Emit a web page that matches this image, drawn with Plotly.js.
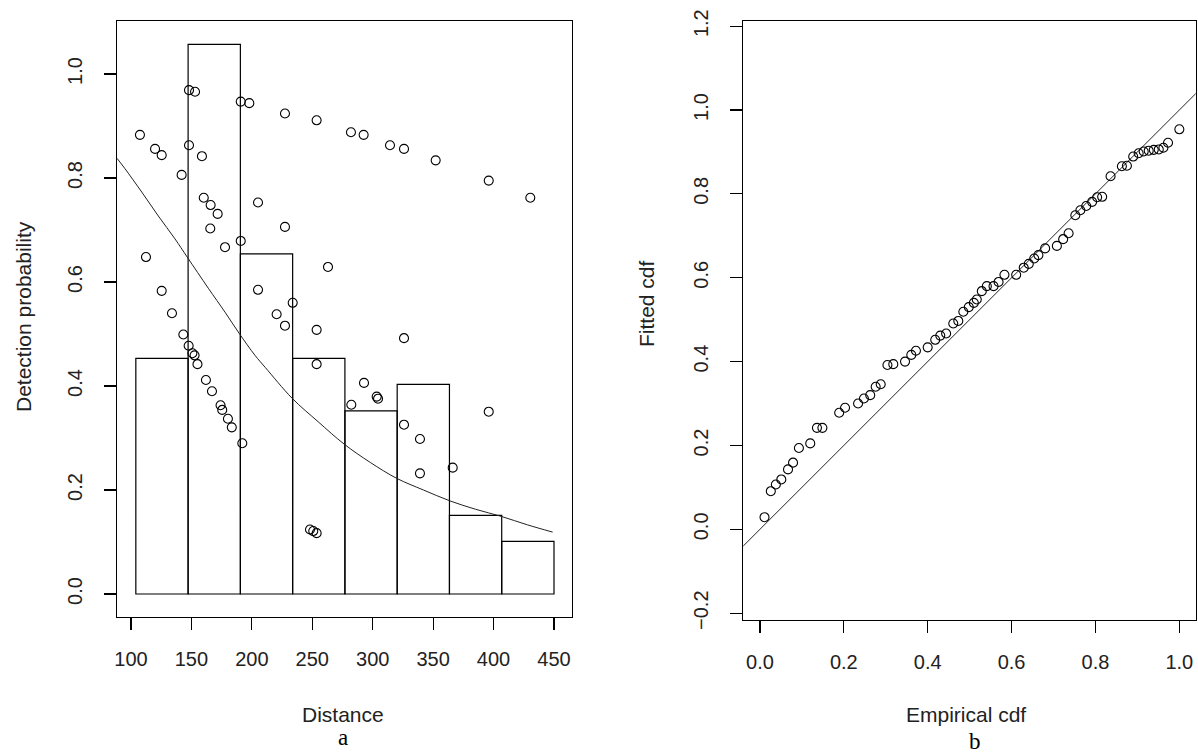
<!DOCTYPE html>
<html>
<head>
<meta charset="utf-8">
<script src="https://cdn.plot.ly/plotly-3.0.1.min.js"></script>
<style>html,body{margin:0;padding:0;background:#fff;}#chart{width:1198px;height:755px;}</style>
</head>
<body>
<div id="chart"></div>
<script>
// ---- Panel a: histogram of detection distances (scaled) ----
const binEdges = [104, 147.25, 190.5, 233.75, 277, 320.25, 363.5, 406.75, 450];
const binHeights = [0.453, 1.057, 0.654, 0.453, 0.352, 0.403, 0.151, 0.101];

// ---- Panel a: fitted detection function ----
const curveDist = [88.4, 95, 108.9, 122.6, 136.4, 146.5, 164, 177.8, 189.6, 202.6, 211, 233.5, 255, 276.5, 298, 319.8, 342, 364, 385, 406.7, 428, 448.9];
const curveProb = [0.838, 0.818, 0.773, 0.727, 0.683, 0.648, 0.588, 0.542, 0.501, 0.459, 0.436, 0.376, 0.331, 0.288, 0.253, 0.2225, 0.200, 0.179, 0.163, 0.149, 0.133, 0.119];

// ---- Panel a: observed points ----
const pointDist = [107.4, 148, 153, 190.8, 197.9, 227.4, 253.6, 282, 292.5, 314.3, 325.9, 352.1, 396, 430.4,
  119.9, 125.4, 148, 158.7, 141.9, 160.2, 165.9, 171.7, 165.6, 205.1, 227.4, 177.8, 190.8, 263,
  112.4, 125.4, 205.1, 133.9, 233.8, 220.5, 227.4, 253.6, 143.3, 147.7, 150.8, 152.6, 155, 253.6,
  162, 167, 174.1, 175.5, 180.2, 183.4, 192.1, 325.9, 292.8, 282.3, 303.3, 304.4, 325.9, 339.1,
  339.1, 366.2, 396, 248.1, 250.8, 253.6];
const pointProb = [0.883, 0.969, 0.966, 0.947, 0.944, 0.924, 0.911, 0.888, 0.883, 0.863, 0.856, 0.834, 0.795, 0.762,
  0.856, 0.844, 0.863, 0.842, 0.806, 0.762, 0.748, 0.731, 0.703, 0.753, 0.706, 0.667, 0.679, 0.629,
  0.648, 0.583, 0.585, 0.540, 0.560, 0.538, 0.516, 0.508, 0.499, 0.4775, 0.463, 0.459, 0.442, 0.442,
  0.4115, 0.390, 0.363, 0.354, 0.337, 0.3205, 0.290, 0.492, 0.406, 0.364, 0.3795, 0.3756, 0.3256, 0.298,
  0.232, 0.243, 0.3506, 0.124, 0.121, 0.117];

// ---- Panel b: Q-Q style cdf plot ----
const empCdf = [0.011, 0.026, 0.038, 0.051, 0.067, 0.079, 0.093, 0.120, 0.136, 0.149, 0.189, 0.203, 0.234, 0.248, 0.263, 0.276,
  0.288, 0.304, 0.318, 0.346, 0.361, 0.372, 0.400, 0.418, 0.430, 0.444, 0.461, 0.473, 0.485, 0.498, 0.510, 0.517,
  0.529, 0.541, 0.557, 0.569, 0.583, 0.611, 0.629, 0.641, 0.654, 0.664, 0.680, 0.708, 0.723, 0.736, 0.752, 0.764,
  0.778, 0.792, 0.804, 0.816, 0.836, 0.863, 0.875, 0.890, 0.903, 0.915, 0.927, 0.939, 0.951, 0.962, 0.973, 1.000];
const fitCdf = [0.029, 0.091, 0.107, 0.119, 0.143, 0.159, 0.194, 0.205, 0.242, 0.242, 0.278, 0.290, 0.300, 0.312, 0.320, 0.340,
  0.346, 0.392, 0.394, 0.400, 0.416, 0.426, 0.434, 0.452, 0.462, 0.467, 0.491, 0.497, 0.519, 0.530, 0.540, 0.548,
  0.568, 0.580, 0.580, 0.590, 0.607, 0.607, 0.624, 0.633, 0.646, 0.654, 0.670, 0.676, 0.692, 0.706, 0.749, 0.761,
  0.771, 0.781, 0.792, 0.793, 0.842, 0.866, 0.867, 0.889, 0.897, 0.901, 0.903, 0.905, 0.906, 0.910, 0.922, 0.954];
const refLine = [-0.1, 1.1];

const xTicksA = [100, 150, 200, 250, 300, 350, 400, 450];
const yTicksA = [0, 0.2, 0.4, 0.6, 0.8, 1.0];
const xTicksB = [0, 0.2, 0.4, 0.6, 0.8, 1.0];
const yTicksB = [-0.2, 0, 0.2, 0.4, 0.6, 0.8, 1.0, 1.2];

const binCenters = binHeights.map((_, i) => (binEdges[i] + binEdges[i + 1]) / 2);
const binWidths = binHeights.map((_, i) => binEdges[i + 1] - binEdges[i]);

const W = 1198, H = 755;
const FONT = 'Liberation Sans, Arial, sans-serif';
const ink = '#000';

const traces = [
  {type: 'bar', x: binCenters, y: binHeights, width: binWidths, xaxis: 'x', yaxis: 'y',
   marker: {color: 'rgba(0,0,0,0)', line: {color: ink, width: 1.2}}, hoverinfo: 'skip'},
  {type: 'scatter', mode: 'lines', x: curveDist, y: curveProb, xaxis: 'x', yaxis: 'y',
   line: {color: '#222', width: 1, shape: 'spline', smoothing: 1}},
  {type: 'scatter', mode: 'markers', x: pointDist, y: pointProb, xaxis: 'x', yaxis: 'y',
   marker: {symbol: 'circle-open', size: 9, color: ink, line: {width: 1.1, color: ink}}},
  {type: 'scatter', mode: 'lines', x: refLine, y: refLine, xaxis: 'x2', yaxis: 'y2',
   line: {color: '#222', width: 1}},
  {type: 'scatter', mode: 'markers', x: empCdf, y: fitCdf, xaxis: 'x2', yaxis: 'y2',
   marker: {symbol: 'circle-open', size: 9, color: ink, line: {width: 1.1, color: ink}}}
];

function axisBase(extra) {
  return Object.assign({
    showgrid: false, zeroline: false, showline: true, mirror: true,
    linecolor: ink, linewidth: 1.2, ticks: 'outside', ticklen: 12, tickwidth: 1.2, tickcolor: ink,
    tickfont: {family: FONT, size: 20, color: '#222'}, tickformat: '.1f'
  }, extra);
}

const layout = {
  width: W, height: H, margin: {l: 0, r: 0, t: 0, b: 0},
  paper_bgcolor: '#fff', plot_bgcolor: '#fff', showlegend: false, bargap: 0,
  xaxis: axisBase({domain: [117 / W, 572 / W], range: [88.42, 464.9], tickvals: xTicksA, tickformat: 'd',
    anchor: 'y', ticklabelstandoff: 12}),
  yaxis: axisBase({domain: [1 - 616.5 / H, 1 - 21 / H], range: [-0.0433, 1.102], tickvals: yTicksA,
    tickangle: -90, anchor: 'x', ticklabelstandoff: 14}),
  xaxis2: axisBase({domain: [743.3 / W, 1195.7 / W], range: [-0.0396, 1.039], tickvals: xTicksB,
    anchor: 'y2', ticklabelstandoff: 12}),
  yaxis2: axisBase({domain: [1 - 619.5 / H, 1 - 20.7 / H], range: [-0.215, 1.213], tickvals: yTicksB,
    tickangle: -90, anchor: 'x2', ticklabelstandoff: 14}),
  annotations: [
    {text: 'Detection probability', x: 23 / W, y: 1 - 317 / H, xref: 'paper', yref: 'paper', textangle: -90,
     showarrow: false, font: {family: FONT, size: 21, color: '#222'}, xanchor: 'center', yanchor: 'middle'},
    {text: 'Distance', x: 343 / W, y: 1 - 714 / H, xref: 'paper', yref: 'paper', showarrow: false,
     font: {family: FONT, size: 21, color: '#222'}, xanchor: 'center', yanchor: 'middle'},
    {text: 'a', x: 343 / W, y: 1 - 737 / H, xref: 'paper', yref: 'paper', showarrow: false,
     font: {family: 'Liberation Serif, Times New Roman, serif', size: 23, color: '#000'}, xanchor: 'center', yanchor: 'middle'},
    {text: 'Fitted cdf', x: 646 / W, y: 1 - 304 / H, xref: 'paper', yref: 'paper', textangle: -90,
     showarrow: false, font: {family: FONT, size: 21, color: '#222'}, xanchor: 'center', yanchor: 'middle'},
    {text: 'Empirical cdf', x: 966 / W, y: 1 - 714 / H, xref: 'paper', yref: 'paper', showarrow: false,
     font: {family: FONT, size: 21, color: '#222'}, xanchor: 'center', yanchor: 'middle'},
    {text: 'b', x: 975 / W, y: 0, xref: 'paper', yref: 'paper', showarrow: false,
     font: {family: 'Liberation Serif, Times New Roman, serif', size: 23, color: '#000'}, xanchor: 'center', yanchor: 'bottom',
     borderpad: 0}
  ]
};

Plotly.newPlot('chart', traces, layout, {staticPlot: true, displayModeBar: false});
</script>
</body>
</html>
